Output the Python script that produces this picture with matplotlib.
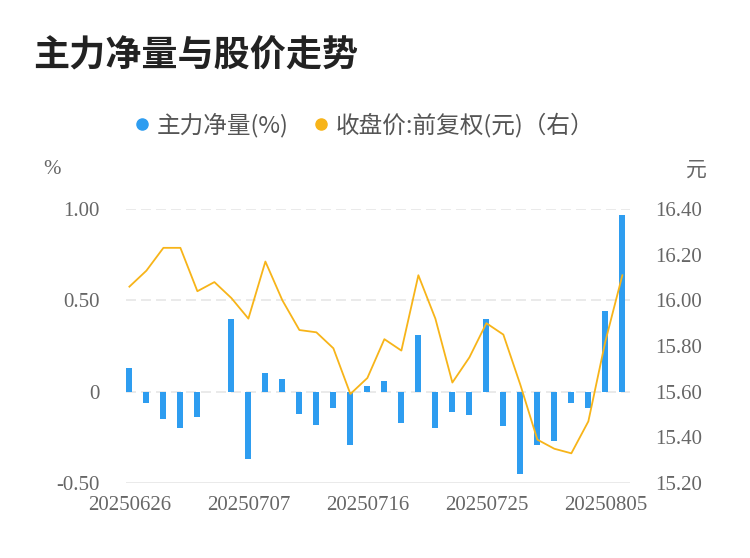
import matplotlib
matplotlib.use("Agg")
import matplotlib.pyplot as plt
from matplotlib.lines import Line2D

dates = ["20250626", "20250627", "20250630", "20250701", "20250702", "20250703",
         "20250704", "20250707", "20250708", "20250709", "20250710", "20250711",
         "20250714", "20250715", "20250716", "20250717", "20250718", "20250721",
         "20250722", "20250723", "20250724", "20250725", "20250728", "20250729",
         "20250730", "20250731", "20250801", "20250804", "20250805", "20250806"]
net_volume = [0.13, -0.06, -0.15, -0.20, -0.14, 0.0, 0.40, -0.37, 0.10, 0.07,
              -0.12, -0.18, -0.09, -0.29, 0.03, 0.06, -0.17, 0.31, -0.20, -0.11,
              -0.13, 0.40, -0.19, -0.45, -0.29, -0.27, -0.06, -0.09, 0.44, 0.97]
close_price = [16.06, 16.13, 16.23, 16.23, 16.04, 16.08, 16.01, 15.92, 16.17, 16.00,
               15.87, 15.86, 15.79, 15.59, 15.66, 15.83, 15.78, 16.11, 15.92, 15.64,
               15.75, 15.90, 15.85, 15.63, 15.39, 15.35, 15.33, 15.47, 15.82, 16.11]
left_ticks = [-0.5, 0, 0.5, 1.0]
left_labels = ["-0.50", "0", "0.50", "1.00"]
right_ticks = [15.2, 15.4, 15.6, 15.8, 16.0, 16.2, 16.4]
right_labels = ["15.20", "15.40", "15.60", "15.80", "16.00", "16.20", "16.40"]
xtick_idx = [0, 7, 14, 21, 28]

title = "主力净量与股价走势"
legend_labels = ["主力净量(%)", "收盘价:前复权(元)（右）"]

CJK = ["Noto Sans CJK SC", "DejaVu Sans"]
SERIF = ["Liberation Serif", "DejaVu Serif"]
BLUE = "#2E9DF0"
YELLOW = "#F7B419"
TICK_COLOR = "#666666"

fig = plt.figure(figsize=(7.5, 5.58), dpi=100)
fig.patch.set_facecolor("white")
ax = fig.add_axes([0.168, 0.1344, 0.672, 0.491])
ax2 = ax.twinx()

x = list(range(len(dates)))
ax.bar(x, net_volume, width=0.36, color=BLUE, linewidth=0, zorder=2)
ax2.plot(x, close_price, color=YELLOW, linewidth=1.3, zorder=3)

ax.set_xlim(-0.2, 29.45)
ax.set_ylim(-0.5, 1.0)
ax2.set_ylim(15.2, 16.4)

for y in left_ticks:
    ax.axhline(y, color="#E6E6E6", linewidth=1.2,
               linestyle=(0, (6, 3)) if y != -0.5 else "-", zorder=1)

ax.set_yticks(left_ticks)
ax.set_yticklabels(left_labels)
ax2.set_yticks(right_ticks)
ax2.set_yticklabels(right_labels)
ax.set_xticks(xtick_idx)
ax.set_xticklabels([dates[i] for i in xtick_idx])

for a in (ax, ax2):
    for s in a.spines.values():
        s.set_visible(False)
    a.tick_params(length=0, labelsize=15, colors=TICK_COLOR)
    for lab in a.get_yticklabels() + a.get_xticklabels():
        lab.set_family(SERIF)
ax.tick_params(axis="y", pad=19)
ax2.tick_params(axis="y", pad=18)
ax.tick_params(axis="x", pad=9)

fig.text(33 / 750, 1 - 56 / 558, title, fontsize=26, fontweight="bold",
         family=CJK, color="#222222", ha="left", va="center")

fig.text(52 / 750, 1 - 170 / 558, "%", fontsize=15, family=SERIF,
         color=TICK_COLOR, ha="center", va="center")
fig.text(696 / 750, 1 - 170 / 558, "元", fontsize=15, family=CJK,
         color=TICK_COLOR, ha="center", va="center")

handles = [Line2D([], [], marker="o", linestyle="none", markersize=8,
                  markerfacecolor=BLUE, markeredgecolor=BLUE),
           Line2D([], [], marker="o", linestyle="none", markersize=8,
                  markerfacecolor=YELLOW, markeredgecolor=YELLOW)]
leg = fig.legend(handles, legend_labels, loc="center",
                 bbox_to_anchor=(0.486, 1 - 125 / 558), ncol=2, frameon=False,
                 handlelength=0.6, handletextpad=0.3, columnspacing=1.1,
                 prop={"family": CJK, "size": 17})
for t in leg.get_texts():
    t.set_color("#555555")

fig.savefig("out.png", dpi=100, facecolor="white")
